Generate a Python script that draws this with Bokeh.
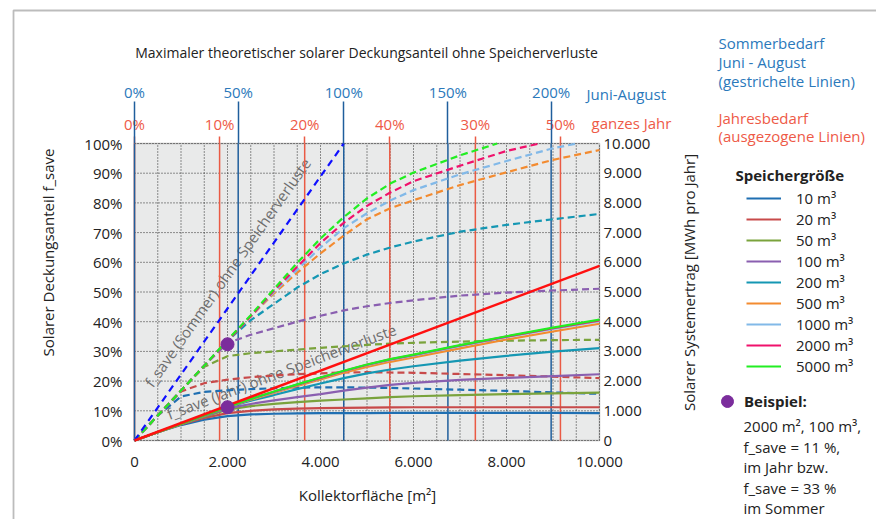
import math
from bokeh.plotting import figure
from bokeh.models import (Range1d, LinearAxis, FixedTicker, Label, Legend, LegendItem,
                          BoxAnnotation)
from bokeh.core.properties import value
from bokeh.embed import file_html
from bokeh.resources import INLINE

FONT = "Open Sans"

# ---------------- data ----------------
area = [0, 500, 1000, 1500, 2000, 2500, 3000, 3500, 4000, 4500, 5000, 5500, 6000, 7000, 8000, 9000, 10000]

storage_labels = ["10 m³", "20 m³", "50 m³", "100 m³", "200 m³", "500 m³", "1000 m³", "2000 m³", "5000 m³"]
storage_colors = ["#1f6fb2", "#c84a4a", "#7aa33c", "#8a5fb0", "#1597b3", "#f38b30", "#82b9e8", "#f0126c", "#22ee22"]

# annual demand (solid lines), f_save in %
year_10   = [0, 2.8, 5.2, 7.0, 8.2, 8.8, 9.0, 9.1, 9.2, 9.2, 9.2, 9.3, 9.3, 9.3, 9.3, 9.3, 9.2]
year_20   = [0, 2.8, 5.4, 7.6, 9.2, 10.0, 10.5, 10.7, 10.9, 11.0, 11.1, 11.15, 11.2, 11.2, 11.2, 11.2, 11.2]
year_50   = [0, 2.8, 5.5, 8.0, 10.4, 11.6, 12.3, 12.9, 13.4, 13.8, 14.2, 14.6, 14.9, 15.3, 15.6, 15.9, 16.1]
year_100  = [0, 2.8, 5.6, 8.2, 10.8, 12.3, 13.5, 14.6, 15.6, 16.8, 17.8, 18.7, 19.4, 20.4, 21.1, 21.7, 22.3]
year_200  = [0, 2.8, 5.6, 8.4, 11.2, 13.4, 15.3, 17.3, 19.2, 21.0, 22.6, 23.9, 25.0, 26.9, 28.5, 29.9, 31.1]
year_500  = [0, 2.8, 5.6, 8.4, 11.2, 13.7, 16.0, 18.4, 20.6, 22.8, 24.8, 26.5, 28.0, 31.0, 34.0, 36.7, 39.3]
year_1000 = [0, 2.8, 5.6, 8.4, 11.3, 13.9, 16.3, 18.7, 21.0, 23.3, 25.4, 27.1, 28.6, 31.8, 34.8, 37.6, 40.2]
year_2000 = [0, 2.8, 5.6, 8.4, 11.3, 14.0, 16.4, 18.8, 21.1, 23.4, 25.5, 27.3, 28.8, 32.0, 35.0, 37.8, 40.4]
year_5000 = [0, 2.8, 5.6, 8.4, 11.3, 14.0, 16.5, 18.9, 21.2, 23.5, 25.6, 27.4, 28.9, 32.1, 35.1, 38.0, 40.7]

# summer demand June-August (dashed lines), f_save in %
summer_10   = [0, 8.4, 14.8, 16.4, 16.9, 17.3, 17.6, 17.8, 17.9, 17.9, 17.8, 17.7, 17.5, 17.1, 16.7, 16.2, 15.7]
summer_20   = [0, 8.4, 16.5, 19.3, 20.5, 21.3, 21.9, 22.3, 22.6, 22.9, 23.0, 22.9, 22.8, 22.4, 22.0, 21.5, 21.0]
summer_50   = [0, 8.4, 16.8, 24.8, 28.4, 29.4, 30.0, 30.6, 31.2, 31.7, 32.2, 32.6, 32.9, 33.3, 33.6, 33.8, 33.9]
summer_100  = [0, 8.4, 16.8, 25.2, 32.8, 35.6, 37.8, 40.0, 42.0, 43.8, 45.2, 46.3, 47.2, 48.8, 49.8, 50.5, 51.1]
summer_200  = [0, 8.4, 16.8, 25.2, 33.6, 40.5, 46.0, 51.5, 56.0, 59.6, 62.6, 65.0, 67.0, 70.3, 72.6, 74.5, 76.3]
summer_500  = [0, 8.4, 16.8, 25.2, 33.6, 41.8, 49.5, 56.5, 63.0, 69.0, 74.5, 78.2, 80.9, 86.0, 90.3, 94.5, 97.8]
summer_1000 = [0, 8.4, 16.8, 25.2, 33.6, 41.8, 50.0, 57.5, 65.0, 71.5, 76.5, 80.8, 84.3, 89.6, 94.1, 98.4, 101.5]
summer_2000 = [0, 8.4, 16.8, 25.2, 33.6, 41.8, 50.5, 58.5, 66.5, 73.3, 79.0, 83.5, 87.3, 92.5, 97.5, 101.0, 104.0]
summer_5000 = [0, 8.4, 16.8, 25.2, 33.8, 42.2, 51.0, 59.8, 68.0, 75.2, 81.5, 86.5, 90.2, 96.0, 101.0, 105.0, 108.0]

# theoretical maximum without storage losses
ref_year_area, ref_year_fsave = [0, 10000], [0, 58.8]
ref_summer_area, ref_summer_fsave = [0, 4500], [0, 100]

# example point
example_area = [2000, 2000]
example_fsave = [11.2, 32.4]

# axes
area_ticks = [0, 2000, 4000, 6000, 8000, 10000]
area_tick_labels = ["0", "2.000", "4.000", "6.000", "8.000", "10.000"]
fsave_ticks = [0, 10, 20, 30, 40, 50, 60, 70, 80, 90, 100]
fsave_tick_labels = ["0%", "10%", "20%", "30%", "40%", "50%", "60%", "70%", "80%", "90%", "100%"]
yield_ticks = [0, 1000, 2000, 3000, 4000, 5000, 6000, 7000, 8000, 9000, 10000]
yield_tick_labels = ["0", "1.000", "2.000", "3.000", "4.000", "5.000", "6.000", "7.000", "8.000", "9.000", "10.000"]
grid_x = list(range(0, 10001, 500))
grid_y = fsave_ticks

summer_max_pos = [0, 2230, 4500, 6740, 8960]
summer_max_labels = ["0%", "50%", "100%", "150%", "200%"]
year_max_pos = [0, 1830, 3660, 5490, 7330, 9160]
year_max_labels = ["0%", "10%", "20%", "40%", "30%", "50%"]

year_series = [year_10, year_20, year_50, year_100, year_200, year_500, year_1000, year_2000, year_5000]
summer_series = [summer_10, summer_20, summer_50, summer_100, summer_200, summer_500, summer_1000, summer_2000, summer_5000]

# ---------------- layout helpers (canvas pixels -> data) ----------------
X_PX0, X_PX1 = 134, 599
Y_PX0, Y_PX1 = 440, 143
def ax(px):
    return (px - X_PX0) / (X_PX1 - X_PX0) * 10000
def ay(py):
    return (Y_PX0 - py) / (Y_PX0 - Y_PX1) * 100

BLUE_TXT = "#2b79bb"
RED_TXT = "#ee5a47"
BLUE_LINE = "#1f5e9c"
RED_LINE = "#ea5a44"
DARK = "#222222"

W, H = 876, 519
p = figure(width=W, height=H, x_range=Range1d(ax(0), ax(W)), y_range=Range1d(ay(H), ay(0)),
           output_backend="svg", toolbar_location=None, title=None,
           min_border=0, min_border_left=0, min_border_right=0, min_border_top=0, min_border_bottom=0)
p.background_fill_color = "white"
p.border_fill_color = "white"
p.outline_line_color = None
p.grid.visible = False

# plot area background and frame
p.add_layout(BoxAnnotation(left=area_ticks[0], right=area_ticks[-1], bottom=fsave_ticks[0], top=fsave_ticks[-1],
                           fill_color="#e9eaea", fill_alpha=1, line_color="#3c3c3c", line_width=1.5,
                           level="underlay"))

def style_axis(a, size="15px"):
    a.axis_line_color = None
    a.minor_tick_line_color = None
    a.major_tick_in = 0
    a.major_tick_out = 0
    a.major_label_text_font = FONT
    a.major_label_text_font_size = size
    a.major_label_text_color = DARK

xa = p.xaxis[0]
style_axis(xa)
xa.fixed_location = 0
xa.ticker = FixedTicker(ticks=area_ticks)
xa.major_label_overrides = {t: l for t, l in zip(area_ticks, area_tick_labels)}
xa.major_label_standoff = 16

ya = p.yaxis[0]
style_axis(ya)
ya.fixed_location = 0
ya.ticker = FixedTicker(ticks=fsave_ticks)
ya.major_label_overrides = {t: l for t, l in zip(fsave_ticks, fsave_tick_labels)}
ya.major_label_standoff = 12

p.extra_y_ranges = {"yield": Range1d(ay(H) * 100, ay(0) * 100)}
ra = LinearAxis(y_range_name="yield", fixed_location=10000, ticker=FixedTicker(ticks=yield_ticks),
                major_label_overrides={t: l for t, l in zip(yield_ticks, yield_tick_labels)})
style_axis(ra)
ra.major_label_standoff = 4
p.add_layout(ra, "right")

year_axis = LinearAxis(fixed_location=100, ticker=FixedTicker(ticks=year_max_pos),
                       major_label_overrides={t: l for t, l in zip(year_max_pos, year_max_labels)})
style_axis(year_axis)
year_axis.major_tick_line_color = RED_LINE
year_axis.major_tick_line_width = 1.5
year_axis.major_tick_out = 7
year_axis.major_label_standoff = 3
year_axis.major_label_text_color = RED_TXT
p.add_layout(year_axis, "above")

summer_axis = LinearAxis(fixed_location=100, ticker=FixedTicker(ticks=summer_max_pos),
                         major_label_overrides={t: l for t, l in zip(summer_max_pos, summer_max_labels)})
style_axis(summer_axis)
summer_axis.major_tick_line_color = BLUE_LINE
summer_axis.major_tick_line_width = 1.5
summer_axis.major_tick_out = 42
summer_axis.major_label_standoff = 0
summer_axis.major_label_text_color = BLUE_TXT
p.add_layout(summer_axis, "above")

# dotted grid inside the plot area
p.segment(x0=grid_x, y0=[fsave_ticks[0]] * len(grid_x), x1=grid_x, y1=[fsave_ticks[-1]] * len(grid_x),
          line_color="#2a2a2a", line_width=1, line_dash="1 2")
p.segment(x0=[area_ticks[0]] * len(grid_y), y0=grid_y, x1=[area_ticks[-1]] * len(grid_y), y1=grid_y,
          line_color="#2a2a2a", line_width=1, line_dash="1 2")

# rotated helper texts along the theoretical lines
p.text(x=[ax(227)], y=[ay(272)], text=["f_save (Sommer) ohne Speicherverluste"],
       angle=math.radians(54.8), text_align="center", text_baseline="middle",
       text_font=value(FONT), text_font_size="15px", text_color="#6e6e6e")
p.text(x=[ax(281)], y=[ay(371)], text=["f_save (Jahr) ohne Speicherverluste"],
       angle=math.radians(20.6), text_align="center", text_baseline="middle",
       text_font=value(FONT), text_font_size="15px", text_color="#6e6e6e")

# vertical marker lines of the top scales
p.segment(x0=year_max_pos, y0=[0] * len(year_max_pos), x1=year_max_pos, y1=[100] * len(year_max_pos),
          line_color=RED_LINE, line_width=1.5)
p.segment(x0=summer_max_pos, y0=[0] * len(summer_max_pos), x1=summer_max_pos, y1=[100] * len(summer_max_pos),
          line_color=BLUE_LINE, line_width=1.5)

# clip curves at the top of the plot area (f_save cannot exceed 100 %)
def clip100(xs, ys):
    ox, oy = [], []
    for i in range(len(xs)):
        if ys[i] <= 100:
            ox.append(xs[i]); oy.append(ys[i])
        else:
            if i > 0 and ys[i - 1] < 100:
                t = (100 - ys[i - 1]) / (ys[i] - ys[i - 1])
                ox.append(xs[i - 1] + t * (xs[i] - xs[i - 1])); oy.append(100)
            break
    return ox, oy

for ys, c in zip(summer_series, storage_colors):
    cx, cy = clip100(area, ys)
    p.line(cx, cy, line_color=c, line_width=2.2, line_dash="7 4")
solid = []
for ys, c in zip(year_series, storage_colors):
    solid.append(p.line(area, ys, line_color=c, line_width=2.2))

p.line(ref_summer_area, ref_summer_fsave, line_color="#1010ff", line_width=2.2, line_dash="7 5")
p.line(ref_year_area, ref_year_fsave, line_color="#ff1010", line_width=2.5)
dots = p.scatter(example_area, example_fsave, size=13, color="#7b2d9c")

# legend
leg = Legend(items=[LegendItem(label=l, renderers=[r]) for l, r in zip(storage_labels, solid)],
             location=(746, 143), padding=0, margin=0, spacing=1,
             glyph_width=35, glyph_height=18, label_height=18, label_standoff=15,
             label_text_font=FONT, label_text_font_size="15px", label_text_color=DARK,
             border_line_color=None, background_fill_alpha=0)
p.add_layout(leg, "center")

leg2 = Legend(items=[LegendItem(label="Beispiel:", renderers=[dots])],
              location=(712, 103), padding=0, margin=0,
              glyph_width=30, glyph_height=30, label_height=30, label_standoff=2,
              label_text_font=FONT, label_text_font_size="15px", label_text_font_style="bold",
              label_text_color=DARK, border_line_color=None, background_fill_alpha=0)
p.add_layout(leg2, "center")

def lab(text, px, py, color=DARK, size="15px", align="left", style="normal", angle=0.0):
    p.add_layout(Label(x=ax(px), y=ay(py), text=text, text_color=color, text_font=FONT,
                       text_font_size=size, text_align=align, text_baseline="middle",
                       text_font_style=style, angle=angle))

lab("Maximaler theoretischer solarer Deckungsanteil ohne Speicherverluste", 366, 52, align="center", size="14px")
lab("Juni-August", 586, 93, color=BLUE_TXT)
lab("ganzes Jahr", 591, 122, color=RED_TXT)
lab("Solarer Deckungsanteil f_save", 47, 252, align="center", angle=math.pi / 2)
lab("Solarer Systemertrag [MWh pro Jahr]", 688, 282, align="center", angle=math.pi / 2)
lab("Kollektorfläche [m²]", 367, 494, align="center")
for t, yy in zip(["Sommerbedarf", "Juni - August", "(gestrichelte Linien)"], [42, 61, 80]):
    lab(t, 718, yy, color=BLUE_TXT)
for t, yy in zip(["Jahresbedarf", "(ausgezogene Linien)"], [117, 135]):
    lab(t, 718, yy, color=RED_TXT)
lab("Speichergröße", 735, 174, style="bold")
for t, yy in zip(["2000 m², 100 m³,", "f_save = 11 %,", "im Jahr bzw.", "f_save = 33 %", "im Sommer"],
                 [425, 446, 466, 487, 507]):
    lab(t, 743, yy)

# outer frame of the whole figure
p.add_layout(BoxAnnotation(left=ax(13), right=ax(2000), top=ay(10), bottom=ay(2000),
                           fill_alpha=0, line_color="#222222", line_width=1.8))

open("out.html", "w").write(file_html(p, INLINE))
